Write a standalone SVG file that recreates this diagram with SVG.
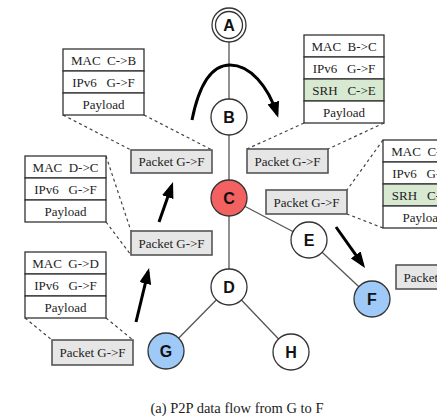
<svg xmlns="http://www.w3.org/2000/svg" width="437" height="418" viewBox="0 0 437 418">
  <style>
    .edge { stroke: #555; stroke-width: 1.3; fill: none; }
    .node circle { stroke: #333; stroke-width: 1.3; fill: #fff; }
    .node text { font-family: "Liberation Sans", Arial, sans-serif; font-weight: bold; font-size: 16px; fill: #111; text-anchor: middle; }
    .cell { fill: #fff; stroke: #333; stroke-width: 1.3; }
    .cell.srh { fill: #d7e9d1; }
    .pkt { fill: #e6e6e6; stroke: #555; stroke-width: 1.6; }
    .lbl { font-family: "Liberation Serif", "Times New Roman", serif; font-size: 13px; fill: #222; text-anchor: middle; white-space: pre; }
    .lead { stroke: #444; stroke-width: 1.2; stroke-dasharray: 3 3; fill: none; }
    .flow { stroke: #000; stroke-width: 3; fill: none; marker-end: url(#head); }
    .caption { font-family: "Liberation Serif", "Times New Roman", serif; font-size: 14.5px; fill: #222; text-anchor: middle; }
  </style>
  <defs>
    <marker id="head" viewBox="0 0 16 12" markerUnits="userSpaceOnUse" markerWidth="16" markerHeight="12" refX="12" refY="6" orient="auto">
      <path d="M0,0 L16,6 L0,12 z" fill="#000"/>
    </marker>
  </defs>

  <!-- tree links -->
  <g id="connectors">
    <line class="edge" x1="229" y1="42" x2="229" y2="287"/>
    <line class="edge" x1="229" y1="198" x2="309" y2="240"/>
    <line class="edge" x1="309" y1="240" x2="372" y2="299"/>
    <line class="edge" x1="229" y1="287" x2="166" y2="351"/>
    <line class="edge" x1="229" y1="287" x2="291" y2="352"/>

    <!-- dashed leaders from header stacks to packets -->
    <line class="lead" x1="63" y1="115" x2="131" y2="150"/>
    <line class="lead" x1="144" y1="115" x2="212" y2="150"/>
    <line class="lead" x1="106" y1="156" x2="131" y2="231"/>
    <line class="lead" x1="106" y1="222" x2="131" y2="255"/>
    <line class="lead" x1="25" y1="318" x2="52" y2="340"/>
    <line class="lead" x1="106" y1="318" x2="133" y2="340"/>
    <line class="lead" x1="304" y1="123" x2="247" y2="149"/>
    <line class="lead" x1="384" y1="123" x2="328" y2="149"/>
    <line class="lead" x1="383" y1="140" x2="347" y2="190"/>
    <line class="lead" x1="383" y1="228" x2="347" y2="214"/>

    <!-- data flow arrows -->
    <path class="flow" d="M136,322 L148.1,271.9"/>
    <path class="flow" d="M159,222 L171.7,185.8"/>
    <path class="flow" d="M192,120 C200,80 214,65 230,65 C250,65 268,86 277,114"/>
    <path class="flow" d="M336,227 L362.7,264.7"/>
  </g>

  <!-- nodes -->
  <g id="node-A" class="node">
    <circle cx="229" cy="25" r="17"/>
    <circle cx="229" cy="25" r="13.5"/>
    <text x="229" y="31">A</text>
  </g>
  <g id="node-B" class="node">
    <circle cx="229" cy="117" r="18"/>
    <text x="229" y="123">B</text>
  </g>
  <g id="node-C" class="node">
    <circle cx="229" cy="198" r="18" style="fill:#f46161"/>
    <text x="229" y="204">C</text>
  </g>
  <g id="node-D" class="node">
    <circle cx="229" cy="287" r="18"/>
    <text x="229" y="293">D</text>
  </g>
  <g id="node-E" class="node">
    <circle cx="309" cy="240" r="18"/>
    <text x="309" y="246">E</text>
  </g>
  <g id="node-F" class="node">
    <circle cx="372" cy="299" r="18" style="fill:#9fcaf8"/>
    <text x="372" y="305">F</text>
  </g>
  <g id="node-G" class="node">
    <circle cx="166" cy="351" r="18" style="fill:#9fcaf8"/>
    <text x="166" y="357">G</text>
  </g>
  <g id="node-H" class="node">
    <circle cx="291" cy="352" r="18"/>
    <text x="291" y="358">H</text>
  </g>

  <!-- header stacks -->
  <g id="hdr-CB">
    <rect class="cell" x="63" y="49" width="81" height="22"/>
    <rect class="cell" x="63" y="71" width="81" height="22"/>
    <rect class="cell" x="63" y="93" width="81" height="22"/>
    <text class="lbl" x="103.5" y="64.5">MAC  C-&gt;B</text>
    <text class="lbl" x="103.5" y="86.5">IPv6   G-&gt;F</text>
    <text class="lbl" x="103.5" y="108.5">Payload</text>
  </g>
  <g id="hdr-DC">
    <rect class="cell" x="25" y="156" width="81" height="22"/>
    <rect class="cell" x="25" y="178" width="81" height="22"/>
    <rect class="cell" x="25" y="200" width="81" height="22"/>
    <text class="lbl" x="65.5" y="171.5">MAC  D-&gt;C</text>
    <text class="lbl" x="65.5" y="193.5">IPv6   G-&gt;F</text>
    <text class="lbl" x="65.5" y="215.5">Payload</text>
  </g>
  <g id="hdr-GD">
    <rect class="cell" x="25" y="252" width="81" height="22"/>
    <rect class="cell" x="25" y="274" width="81" height="22"/>
    <rect class="cell" x="25" y="296" width="81" height="22"/>
    <text class="lbl" x="65.5" y="267.5">MAC  G-&gt;D</text>
    <text class="lbl" x="65.5" y="289.5">IPv6   G-&gt;F</text>
    <text class="lbl" x="65.5" y="311.5">Payload</text>
  </g>
  <g id="hdr-BC">
    <rect class="cell" x="304" y="35" width="80" height="22"/>
    <rect class="cell" x="304" y="57" width="80" height="22"/>
    <rect class="cell srh" x="304" y="79" width="80" height="22"/>
    <rect class="cell" x="304" y="101" width="80" height="22"/>
    <text class="lbl" x="344" y="50.5">MAC  B-&gt;C</text>
    <text class="lbl" x="344" y="72.5">IPv6   G-&gt;F</text>
    <text class="lbl" x="344" y="94.5">SRH   C-&gt;E</text>
    <text class="lbl" x="344" y="116.5">Payload</text>
  </g>
  <g id="hdr-CE">
    <rect class="cell" x="383" y="140" width="81" height="22"/>
    <rect class="cell" x="383" y="162" width="81" height="22"/>
    <rect class="cell srh" x="383" y="184" width="81" height="22"/>
    <rect class="cell" x="383" y="206" width="81" height="22"/>
    <text class="lbl" x="423.5" y="155.5">MAC  C-&gt;E</text>
    <text class="lbl" x="423.5" y="177.5">IPv6   G-&gt;F</text>
    <text class="lbl" x="423.5" y="199.5">SRH   C-&gt;E</text>
    <text class="lbl" x="423.5" y="221.5">Payload</text>
  </g>

  <!-- packets on each hop -->
  <g id="pkt-1">
    <rect class="pkt" x="131" y="150" width="81" height="23"/>
    <text class="lbl" x="171.5" y="166">Packet G-&gt;F</text>
  </g>
  <g id="pkt-2">
    <rect class="pkt" x="247" y="149" width="81" height="24"/>
    <text class="lbl" x="287.5" y="165.5">Packet G-&gt;F</text>
  </g>
  <g id="pkt-3">
    <rect class="pkt" x="266" y="190" width="81" height="24"/>
    <text class="lbl" x="306.5" y="206.5">Packet G-&gt;F</text>
  </g>
  <g id="pkt-4">
    <rect class="pkt" x="131" y="231" width="81" height="24"/>
    <text class="lbl" x="171.5" y="247.5">Packet G-&gt;F</text>
  </g>
  <g id="pkt-5">
    <rect class="pkt" x="52" y="340" width="81" height="25"/>
    <text class="lbl" x="92.5" y="357">Packet G-&gt;F</text>
  </g>
  <g id="pkt-6">
    <rect class="pkt" x="396" y="265" width="81" height="24"/>
    <text class="lbl" x="436.5" y="281.5">Packet G-&gt;F</text>
  </g>

  <text class="caption" x="237" y="413">(a) P2P data flow from G to F</text>
</svg>
